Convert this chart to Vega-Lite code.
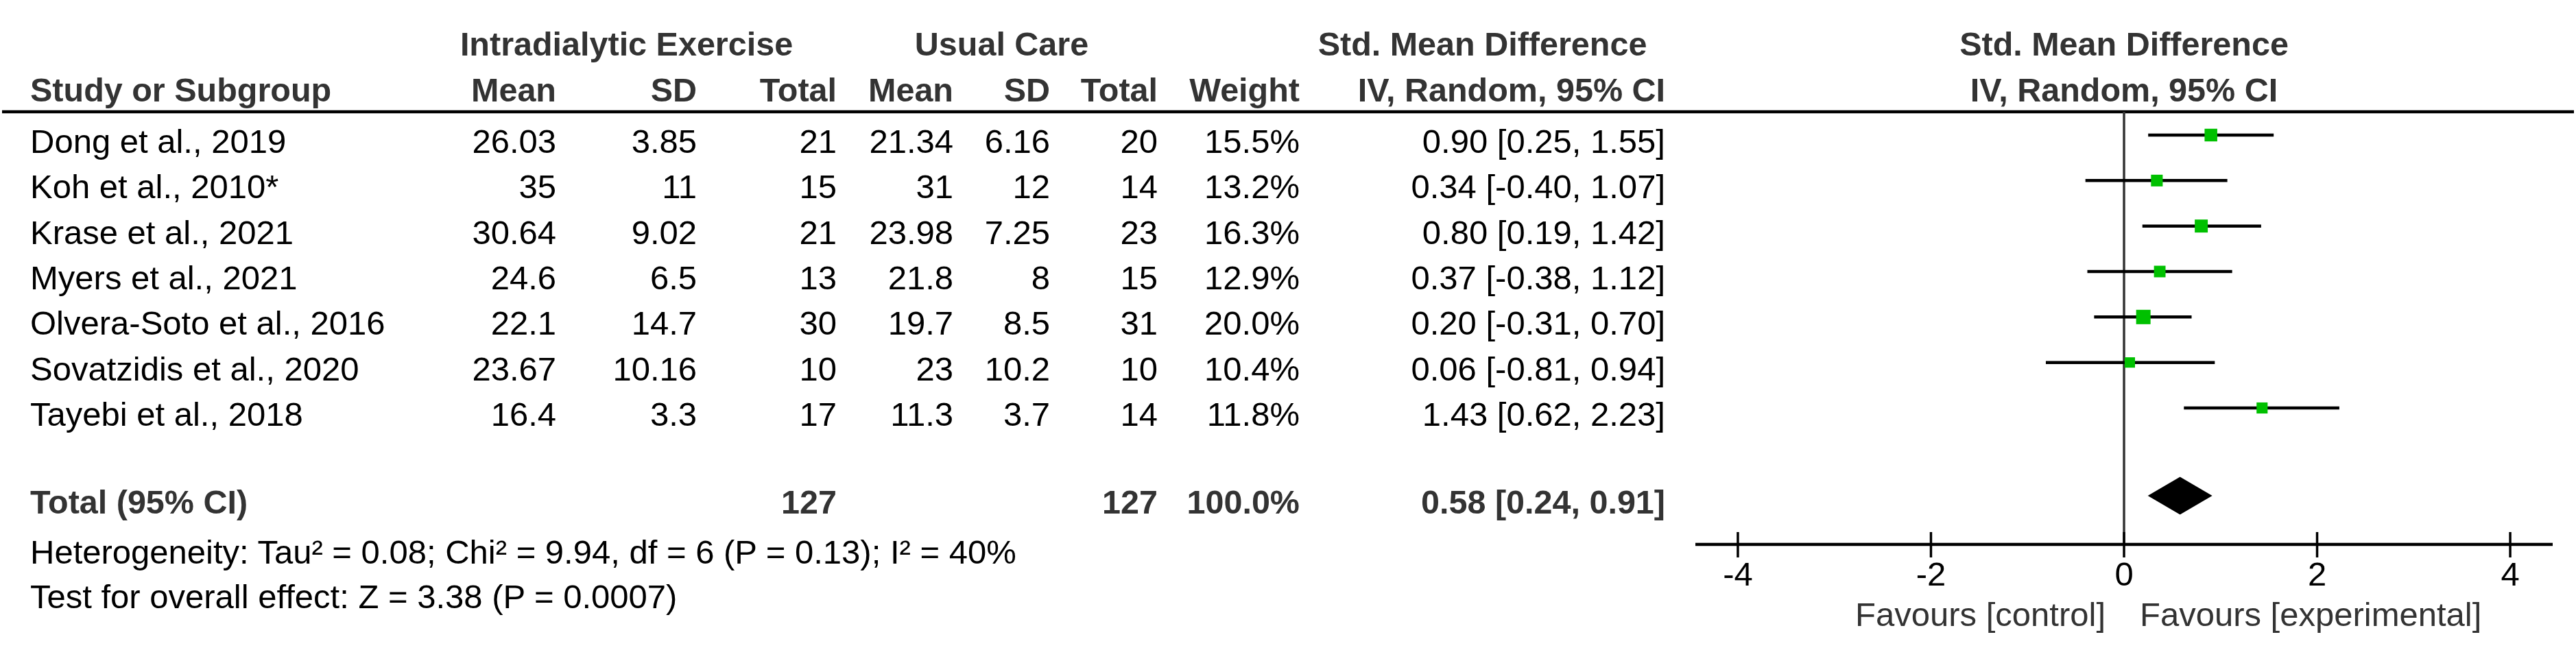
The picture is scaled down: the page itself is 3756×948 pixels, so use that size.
{
  "$schema": "https://vega.github.io/schema/vega-lite/v6.json",
  "width": 3756,
  "height": 948,
  "autosize": {"type": "fit", "contains": "padding"},
  "padding": 0,
  "background": "white",
  "config": {"view": {"stroke": null}, "axis": {"disable": true}, "text": {"font": "Liberation Sans"}},
  "datasets": {
    "cells": [
      {"row": 0, "col": 1.5, "text": "Intradialytic Exercise"},
      {"row": 0, "col": 4.5, "text": "Usual Care"},
      {"row": 0, "col": 7.5, "text": "Std. Mean Difference"},
      {"row": 1, "col": 0, "text": "Study or Subgroup"},
      {"row": 1, "col": 1, "text": "Mean"},
      {"row": 1, "col": 2, "text": "SD"},
      {"row": 1, "col": 3, "text": "Total"},
      {"row": 1, "col": 4, "text": "Mean"},
      {"row": 1, "col": 5, "text": "SD"},
      {"row": 1, "col": 6, "text": "Total"},
      {"row": 1, "col": 7, "text": "Weight"},
      {"row": 1, "col": 8, "text": "IV, Random, 95% CI"},
      {"row": 2, "col": 0, "text": "Dong et al., 2019"},
      {"row": 2, "col": 1, "text": "26.03"},
      {"row": 2, "col": 2, "text": "3.85"},
      {"row": 2, "col": 3, "text": "21"},
      {"row": 2, "col": 4, "text": "21.34"},
      {"row": 2, "col": 5, "text": "6.16"},
      {"row": 2, "col": 6, "text": "20"},
      {"row": 2, "col": 7, "text": "15.5%"},
      {"row": 2, "col": 8, "text": "0.90 [0.25, 1.55]"},
      {"row": 3, "col": 0, "text": "Koh et al., 2010*"},
      {"row": 3, "col": 1, "text": "35"},
      {"row": 3, "col": 2, "text": "11"},
      {"row": 3, "col": 3, "text": "15"},
      {"row": 3, "col": 4, "text": "31"},
      {"row": 3, "col": 5, "text": "12"},
      {"row": 3, "col": 6, "text": "14"},
      {"row": 3, "col": 7, "text": "13.2%"},
      {"row": 3, "col": 8, "text": "0.34 [-0.40, 1.07]"},
      {"row": 4, "col": 0, "text": "Krase et al., 2021"},
      {"row": 4, "col": 1, "text": "30.64"},
      {"row": 4, "col": 2, "text": "9.02"},
      {"row": 4, "col": 3, "text": "21"},
      {"row": 4, "col": 4, "text": "23.98"},
      {"row": 4, "col": 5, "text": "7.25"},
      {"row": 4, "col": 6, "text": "23"},
      {"row": 4, "col": 7, "text": "16.3%"},
      {"row": 4, "col": 8, "text": "0.80 [0.19, 1.42]"},
      {"row": 5, "col": 0, "text": "Myers et al., 2021"},
      {"row": 5, "col": 1, "text": "24.6"},
      {"row": 5, "col": 2, "text": "6.5"},
      {"row": 5, "col": 3, "text": "13"},
      {"row": 5, "col": 4, "text": "21.8"},
      {"row": 5, "col": 5, "text": "8"},
      {"row": 5, "col": 6, "text": "15"},
      {"row": 5, "col": 7, "text": "12.9%"},
      {"row": 5, "col": 8, "text": "0.37 [-0.38, 1.12]"},
      {"row": 6, "col": 0, "text": "Olvera-Soto et al., 2016"},
      {"row": 6, "col": 1, "text": "22.1"},
      {"row": 6, "col": 2, "text": "14.7"},
      {"row": 6, "col": 3, "text": "30"},
      {"row": 6, "col": 4, "text": "19.7"},
      {"row": 6, "col": 5, "text": "8.5"},
      {"row": 6, "col": 6, "text": "31"},
      {"row": 6, "col": 7, "text": "20.0%"},
      {"row": 6, "col": 8, "text": "0.20 [-0.31, 0.70]"},
      {"row": 7, "col": 0, "text": "Sovatzidis et al., 2020"},
      {"row": 7, "col": 1, "text": "23.67"},
      {"row": 7, "col": 2, "text": "10.16"},
      {"row": 7, "col": 3, "text": "10"},
      {"row": 7, "col": 4, "text": "23"},
      {"row": 7, "col": 5, "text": "10.2"},
      {"row": 7, "col": 6, "text": "10"},
      {"row": 7, "col": 7, "text": "10.4%"},
      {"row": 7, "col": 8, "text": "0.06 [-0.81, 0.94]"},
      {"row": 8, "col": 0, "text": "Tayebi et al., 2018"},
      {"row": 8, "col": 1, "text": "16.4"},
      {"row": 8, "col": 2, "text": "3.3"},
      {"row": 8, "col": 3, "text": "17"},
      {"row": 8, "col": 4, "text": "11.3"},
      {"row": 8, "col": 5, "text": "3.7"},
      {"row": 8, "col": 6, "text": "14"},
      {"row": 8, "col": 7, "text": "11.8%"},
      {"row": 8, "col": 8, "text": "1.43 [0.62, 2.23]"},
      {"row": 9, "col": 0, "text": "Total (95% CI)"},
      {"row": 9, "col": 3, "text": "127"},
      {"row": 9, "col": 6, "text": "127"},
      {"row": 9, "col": 7, "text": "100.0%"},
      {"row": 9, "col": 8, "text": "0.58 [0.24, 0.91]"},
      {"row": 10, "col": 0, "text": "Heterogeneity: Tau² = 0.08; Chi² = 9.94, df = 6 (P = 0.13); I² = 40%"},
      {"row": 11, "col": 0, "text": "Test for overall effect: Z = 3.38 (P = 0.0007)"}
    ],
    "studies": [
      {"study": "Dong et al., 2019", "row": 2, "smd": 0.90, "lo": 0.25, "hi": 1.55, "weight": 15.5},
      {"study": "Koh et al., 2010*", "row": 3, "smd": 0.34, "lo": -0.40, "hi": 1.07, "weight": 13.2},
      {"study": "Krase et al., 2021", "row": 4, "smd": 0.80, "lo": 0.19, "hi": 1.42, "weight": 16.3},
      {"study": "Myers et al., 2021", "row": 5, "smd": 0.37, "lo": -0.38, "hi": 1.12, "weight": 12.9},
      {"study": "Olvera-Soto et al., 2016", "row": 6, "smd": 0.20, "lo": -0.31, "hi": 0.70, "weight": 20.0},
      {"study": "Sovatzidis et al., 2020", "row": 7, "smd": 0.06, "lo": -0.81, "hi": 0.94, "weight": 10.4},
      {"study": "Tayebi et al., 2018", "row": 8, "smd": 1.43, "lo": 0.62, "hi": 2.23, "weight": 11.8}
    ],
    "ticks": [{"v": -4}, {"v": -2}, {"v": 0}, {"v": 2}, {"v": 4}]
  },
  "resolve": {"scale": {"x": "independent"}},
  "layer": [
    {
      "layer": [
        {
          "data": {"name": "cells"},
          "transform": [{"filter": "(datum.row == 1 || datum.row == 9) && datum.col == 0"}],
          "mark": {"type": "text", "align": "left", "baseline": "alphabetic", "dy": 26, "fontSize": 48.5, "fontWeight": "bold", "fill": "#333333"},
          "encoding": {
            "x": {"field": "col", "type": "quantitative", "scale": {"domain": [0, 1, 2, 3, 4, 5, 6, 7, 8], "range": [41, 808, 1013, 1217, 1387, 1528, 1685, 1892, 2425], "nice": false, "zero": false}},
            "y": {"field": "row", "type": "quantitative", "scale": {"domain": [0, 1, 2, 8, 9, 10, 11], "range": [55, 122, 197, 595, 723, 796, 861], "nice": false, "zero": false}},
            "text": {"field": "text", "type": "nominal"}
          }
        },
        {
          "data": {"name": "cells"},
          "transform": [{"filter": "(datum.row == 1 || datum.row == 9) && datum.col > 0"}],
          "mark": {"type": "text", "align": "right", "baseline": "alphabetic", "dy": 26, "fontSize": 48.5, "fontWeight": "bold", "fill": "#333333"},
          "encoding": {
            "x": {"field": "col", "type": "quantitative", "scale": {"domain": [0, 1, 2, 3, 4, 5, 6, 7, 8], "range": [41, 808, 1013, 1217, 1387, 1528, 1685, 1892, 2425], "nice": false, "zero": false}},
            "y": {"field": "row", "type": "quantitative", "scale": {"domain": [0, 1, 2, 8, 9, 10, 11], "range": [55, 122, 197, 595, 723, 796, 861], "nice": false, "zero": false}},
            "text": {"field": "text", "type": "nominal"}
          }
        },
        {
          "data": {"name": "cells"},
          "transform": [{"filter": "datum.row == 0"}],
          "mark": {"type": "text", "align": "center", "baseline": "alphabetic", "dy": 26, "fontSize": 48.5, "fontWeight": "bold", "fill": "#333333"},
          "encoding": {
            "x": {"field": "col", "type": "quantitative", "scale": {"domain": [0, 1, 2, 3, 4, 5, 6, 7, 8], "range": [41, 808, 1013, 1217, 1387, 1528, 1685, 1892, 2425], "nice": false, "zero": false}},
            "y": {"field": "row", "type": "quantitative", "scale": {"domain": [0, 1, 2, 8, 9, 10, 11], "range": [55, 122, 197, 595, 723, 796, 861], "nice": false, "zero": false}},
            "text": {"field": "text", "type": "nominal"}
          }
        },
        {
          "data": {"name": "cells"},
          "transform": [{"filter": "datum.row >= 2 && datum.row != 9 && datum.col == 0"}],
          "mark": {"type": "text", "align": "left", "baseline": "alphabetic", "dy": 26, "fontSize": 49, "fill": "#000000"},
          "encoding": {
            "x": {"field": "col", "type": "quantitative", "scale": {"domain": [0, 1, 2, 3, 4, 5, 6, 7, 8], "range": [41, 808, 1013, 1217, 1387, 1528, 1685, 1892, 2425], "nice": false, "zero": false}},
            "y": {"field": "row", "type": "quantitative", "scale": {"domain": [0, 1, 2, 8, 9, 10, 11], "range": [55, 122, 197, 595, 723, 796, 861], "nice": false, "zero": false}},
            "text": {"field": "text", "type": "nominal"}
          }
        },
        {
          "data": {"name": "cells"},
          "transform": [{"filter": "datum.row >= 2 && datum.row <= 8 && datum.col > 0"}],
          "mark": {"type": "text", "align": "right", "baseline": "alphabetic", "dy": 26, "fontSize": 49, "fill": "#000000"},
          "encoding": {
            "x": {"field": "col", "type": "quantitative", "scale": {"domain": [0, 1, 2, 3, 4, 5, 6, 7, 8], "range": [41, 808, 1013, 1217, 1387, 1528, 1685, 1892, 2425], "nice": false, "zero": false}},
            "y": {"field": "row", "type": "quantitative", "scale": {"domain": [0, 1, 2, 8, 9, 10, 11], "range": [55, 122, 197, 595, 723, 796, 861], "nice": false, "zero": false}},
            "text": {"field": "text", "type": "nominal"}
          }
        }
      ]
    },
    {
      "layer": [
        {
          "data": {"values": [{}]},
          "mark": {"type": "rule", "color": "#000000", "strokeWidth": 4.5},
          "encoding": {
            "y": {"datum": 1.5467, "type": "quantitative", "scale": {"domain": [0, 1, 2, 8, 9, 10, 11], "range": [55, 122, 197, 595, 723, 796, 861], "nice": false, "zero": false}}
          }
        },
        {
          "data": {"values": [{}]},
          "mark": {"type": "rule", "color": "#333333", "strokeWidth": 3.5},
          "encoding": {
            "x": {"datum": 0, "type": "quantitative", "scale": {"domain": [-4.44, 4.44], "range": [2469, 3719], "nice": false, "zero": false}},
            "y": {"datum": 1.5467, "type": "quantitative", "scale": {"domain": [0, 1, 2, 8, 9, 10, 11], "range": [55, 122, 197, 595, 723, 796, 861], "nice": false, "zero": false}},
            "y2": {"datum": 9.9726}
          }
        },
        {
          "data": {"values": [{}]},
          "mark": {"type": "rule", "color": "#000000", "strokeWidth": 4.5},
          "encoding": {
            "x": {"datum": -4.44, "type": "quantitative", "scale": {"domain": [-4.44, 4.44], "range": [2469, 3719], "nice": false, "zero": false}},
            "x2": {"datum": 4.44},
            "y": {"datum": 9.9726, "type": "quantitative", "scale": {"domain": [0, 1, 2, 8, 9, 10, 11], "range": [55, 122, 197, 595, 723, 796, 861], "nice": false, "zero": false}}
          }
        },
        {
          "data": {"name": "ticks"},
          "mark": {"type": "rule", "color": "#000000", "strokeWidth": 3.5},
          "encoding": {
            "x": {"field": "v", "type": "quantitative", "scale": {"domain": [-4.44, 4.44], "range": [2469, 3719], "nice": false, "zero": false}},
            "y": {"datum": 9.726, "type": "quantitative", "scale": {"domain": [0, 1, 2, 8, 9, 10, 11], "range": [55, 122, 197, 595, 723, 796, 861], "nice": false, "zero": false}},
            "y2": {"datum": 10.2615}
          }
        },
        {
          "data": {"name": "ticks"},
          "mark": {"type": "text", "align": "center", "baseline": "alphabetic", "dy": 26, "fontSize": 49, "fill": "#000000"},
          "encoding": {
            "x": {"field": "v", "type": "quantitative", "scale": {"domain": [-4.44, 4.44], "range": [2469, 3719], "nice": false, "zero": false}},
            "y": {"datum": 10.492, "type": "quantitative", "scale": {"domain": [0, 1, 2, 8, 9, 10, 11], "range": [55, 122, 197, 595, 723, 796, 861], "nice": false, "zero": false}},
            "text": {"field": "v", "type": "nominal"}
          }
        },
        {
          "data": {"name": "studies"},
          "mark": {"type": "rule", "color": "#000000", "strokeWidth": 4.5},
          "encoding": {
            "x": {"field": "lo", "type": "quantitative", "scale": {"domain": [-4.44, 4.44], "range": [2469, 3719], "nice": false, "zero": false}},
            "x2": {"field": "hi"},
            "y": {"field": "row", "type": "quantitative", "scale": {"domain": [0, 1, 2, 8, 9, 10, 11], "range": [55, 122, 197, 595, 723, 796, 861], "nice": false, "zero": false}}
          }
        },
        {
          "data": {"name": "studies"},
          "mark": {"type": "point", "shape": "square", "filled": true, "color": "#00C000", "opacity": 1, "strokeWidth": 0},
          "encoding": {
            "x": {"field": "smd", "type": "quantitative", "scale": {"domain": [-4.44, 4.44], "range": [2469, 3719], "nice": false, "zero": false}},
            "y": {"field": "row", "type": "quantitative", "scale": {"domain": [0, 1, 2, 8, 9, 10, 11], "range": [55, 122, 197, 595, 723, 796, 861], "nice": false, "zero": false}},
            "size": {"field": "weight", "type": "quantitative", "scale": {"domain": [0, 20], "range": [0, 441]}, "legend": null}
          }
        },
        {
          "data": {"values": [{"label": "Total (95% CI)", "row": 9, "smd": 0.58, "lo": 0.24, "hi": 0.91}]},
          "mark": {"type": "point", "shape": "M -1 0 L 0 -0.585 L 1 0 L 0 0.585 Z", "filled": true, "color": "#000000", "opacity": 1, "strokeWidth": 0, "size": 8836},
          "encoding": {
            "x": {"field": "smd", "type": "quantitative", "scale": {"domain": [-4.44, 4.44], "range": [2469, 3719], "nice": false, "zero": false}},
            "y": {"field": "row", "type": "quantitative", "scale": {"domain": [0, 1, 2, 8, 9, 10, 11], "range": [55, 122, 197, 595, 723, 796, 861], "nice": false, "zero": false}}
          }
        },
        {
          "data": {"values": [{"row": 0, "text": "Std. Mean Difference"}, {"row": 1, "text": "IV, Random, 95% CI"}]},
          "mark": {"type": "text", "align": "center", "baseline": "alphabetic", "dy": 26, "fontSize": 48.5, "fontWeight": "bold", "fill": "#333333"},
          "encoding": {
            "x": {"datum": 0, "type": "quantitative", "scale": {"domain": [-4.44, 4.44], "range": [2469, 3719], "nice": false, "zero": false}},
            "y": {"field": "row", "type": "quantitative", "scale": {"domain": [0, 1, 2, 8, 9, 10, 11], "range": [55, 122, 197, 595, 723, 796, 861], "nice": false, "zero": false}},
            "text": {"field": "text", "type": "nominal"}
          }
        },
        {
          "data": {"values": [{"text": "Favours [control]"}]},
          "mark": {"type": "text", "align": "right", "baseline": "alphabetic", "dy": 26, "dx": -27, "fontSize": 49, "fill": "#333333"},
          "encoding": {
            "x": {"datum": 0, "type": "quantitative", "scale": {"domain": [-4.44, 4.44], "range": [2469, 3719], "nice": false, "zero": false}},
            "y": {"datum": 11.4, "type": "quantitative", "scale": {"domain": [0, 1, 2, 8, 9, 10, 11], "range": [55, 122, 197, 595, 723, 796, 861], "nice": false, "zero": false}},
            "text": {"field": "text", "type": "nominal"}
          }
        },
        {
          "data": {"values": [{"text": "Favours [experimental]"}]},
          "mark": {"type": "text", "align": "left", "baseline": "alphabetic", "dy": 26, "dx": 23, "fontSize": 49, "fill": "#333333"},
          "encoding": {
            "x": {"datum": 0, "type": "quantitative", "scale": {"domain": [-4.44, 4.44], "range": [2469, 3719], "nice": false, "zero": false}},
            "y": {"datum": 11.4, "type": "quantitative", "scale": {"domain": [0, 1, 2, 8, 9, 10, 11], "range": [55, 122, 197, 595, 723, 796, 861], "nice": false, "zero": false}},
            "text": {"field": "text", "type": "nominal"}
          }
        }
      ]
    }
  ]
}
